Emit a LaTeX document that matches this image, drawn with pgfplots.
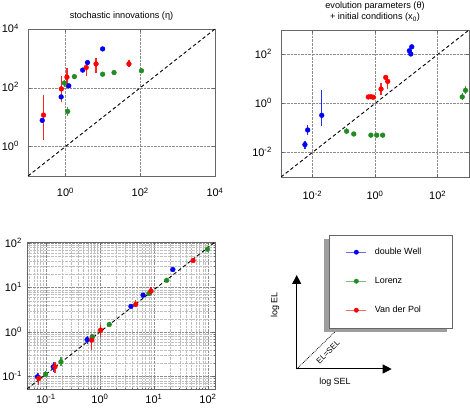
\documentclass[border=0pt]{standalone}
\usepackage{pgfplots}
\pgfplotsset{compat=1.18}
\usepackage{fontspec}
\setmainfont{Liberation Sans}
\usetikzlibrary{arrows.meta}
\definecolor{cb}{rgb}{0,0,1}
\definecolor{cg}{rgb}{0.13,0.55,0.13}
\definecolor{cr}{rgb}{1,0,0}
\pgfplotsset{
  panelstyle/.style={scale only axis,
    axis line style={black!60, line width=0.7bp},
    tick style={black!60, line width=0.5bp},
    major tick length=3bp, minor tick length=0bp, tick align=inside,
    grid=major, major grid style={densely dotted, black!45, line width=0.5bp},
    ticklabel style={font=\fontsize{11}{13}\selectfont, inner sep=0pt},
    xticklabel style={anchor=base, yshift=-21bp},
    yticklabel style={anchor=base east, xshift=-9bp, yshift=-4bp},
    every axis title shift=0pt,
    title style={font=\fontsize{9.2}{11.5}\selectfont, at={(0.5,1)}, anchor=south, inner sep=0pt, yshift=8bp, align=center},
  },
  dotser/.style={only marks, mark=*, mark size=2.4bp, color=#1, mark options={draw=#1, fill=#1}},
  errser/.style={color=#1, line width=1.2bp, unbounded coords=jump, opacity=0.85, forget plot},
  diagline/.style={black, line width=0.9bp, dash pattern=on 3.5bp off 2.5bp},
}
\begin{document}
\begin{tikzpicture}
\path[use as bounding box] (0bp,0bp) rectangle (470bp,411bp);

% ---------- panel 4: schematic + legend box ----------
\draw[black, densely dotted, line width=0.8bp] (296.7bp,42bp) -- (346bp,90bp);
\fill[black!38] (324.3bp,79.3bp) rectangle (447.3bp,171.7bp);
\filldraw[fill=white, draw=black!60, line width=0.8bp] (329.3bp,82.7bp) rectangle (452.3bp,176bp);
\draw[line width=1bp, -{Triangle[length=9bp,width=9bp]}] (296.7bp,42bp) -- (296.7bp,136bp);
\draw[line width=1bp, -{Triangle[length=9bp,width=9bp]}] (296.7bp,42bp) -- (391.7bp,42bp);
\node[rotate=90, font=\fontsize{9}{11}\selectfont] at (275bp,106bp) {log EL};
\node[font=\fontsize{9}{11}\selectfont] at (335bp,29.3bp) {log SEL};
\node[rotate=45, font=\fontsize{8}{10}\selectfont] at (328bp,59bp) {EL=SEL};

% ---------- panel 1 ----------
\begin{loglogaxis}[panelstyle, at={(28bp,235bp)}, anchor=south west, width=187bp, height=147bp,
  xmin=0.1, xmax=1e4, ymin=0.1, ymax=1e4,
  xtick={1,100,10000}, xticklabels={10\textsuperscript{0},10\textsuperscript{2},10\textsuperscript{4}},
  ytick={1,100,10000}, yticklabels={10\textsuperscript{0},10\textsuperscript{2},10\textsuperscript{4}},
  title={stochastic innovations (η)}]
\addplot[diagline] coordinates {(0.1,0.1) (1e4,1e4)};
\addplot[errser=cr] coordinates {(0.26,1.7) (0.26,58) (nan,nan) (0.78,34) (0.78,255) (nan,nan)
  (1.1,97) (1.1,465) (nan,nan) (3.6,255) (3.6,750) (nan,nan) (6.6,315) (6.6,1010) (nan,nan) (50,530) (50,890)};
\addplot[errser=cg] coordinates {(0.94,106) (0.94,186) (nan,nan) (1.15,10.6) (1.15,22) (nan,nan) (1.74,196) (1.74,298)};
\addplot[dotser=cb] coordinates {(0.24,7.8) (0.77,49) (1.23,117) (2.9,400) (3.9,720) (9.9,2100)};
\addplot[dotser=cg] coordinates {(0.94,145) (1.15,15.7) (1.74,240) (9.9,290) (20,330) (108,380)};
\addplot[dotser=cr] coordinates {(0.26,11.8) (0.78,92) (1.1,230) (3.6,490) (6.6,650) (50,650)};
\end{loglogaxis}

% ---------- panel 2 ----------
\begin{loglogaxis}[panelstyle, at={(281bp,234bp)}, anchor=south west, width=188bp, height=147bp,
  xmin=1e-3, xmax=1e3, ymin=1e-3, ymax=1e3,
  xticklabel style={yshift=-2bp},
  xtick={0.01,1,100}, xticklabels={10\textsuperscript{-2},10\textsuperscript{0},10\textsuperscript{2}},
  ytick={0.01,1,100}, yticklabels={10\textsuperscript{-2},10\textsuperscript{0},10\textsuperscript{2}},
  title={evolution parameters (θ)\\+ initial conditions (x\textsubscript{0})}]
\addplot[diagline] coordinates {(1e-3,1e-3) (1e3,1e3)};
\addplot[errser=cb] coordinates {(0.0058,0.014) (0.0058,0.030) (nan,nan) (0.0071,0.051) (0.0071,0.13) (nan,nan) (0.020,0.12) (0.020,3.5)};
\addplot[errser=cr] coordinates {(0.61,1.6) (0.61,2.1) (nan,nan) (0.74,1.7) (0.74,2.2) (nan,nan) (0.88,1.5) (0.88,2.1) (nan,nan)
  (1.56,2.3) (1.56,6.9) (nan,nan) (2.55,3.9) (2.55,12.7)};
\addplot[errser=cg] coordinates {(0.124,0.056) (0.124,0.104) (nan,nan) (610,1.45) (610,2.7) (nan,nan) (775,2.5) (775,5)};
\addplot[dotser=cb] coordinates {(0.0058,0.021) (0.0071,0.083) (0.020,0.33) (12.5,142) (13.9,105) (14.9,206)};
\addplot[dotser=cg] coordinates {(0.124,0.074) (0.21,0.057) (0.74,0.051) (1.13,0.051) (1.76,0.051) (610,1.86) (775,3.45)};
\addplot[dotser=cr] coordinates {(0.61,1.85) (0.74,1.9) (0.88,1.8) (1.56,3.9) (2.2,11.6) (2.55,8)};
\end{loglogaxis}

% ---------- panel 3 ----------
\begin{loglogaxis}[panelstyle, at={(27bp,22bp)}, anchor=south west, width=188bp, height=147bp,
  xmin=0.0447, xmax=135, ymin=0.0525, ymax=107,
  xticklabel style={yshift=7bp}, yticklabel style={xshift=4bp},
  grid=both, minor tick length=1.5bp,
  minor grid style={densely dotted, black!25, line width=0.4bp},
  xtick={0.1,1,10,100}, xticklabels={10\textsuperscript{-1},10\textsuperscript{0},10\textsuperscript{1},10\textsuperscript{2}},
  ytick={0.1,1,10,100}, yticklabels={10\textsuperscript{-1},10\textsuperscript{0},10\textsuperscript{1},10\textsuperscript{2}},
  minor xtick={0.05,0.06,0.07,0.08,0.09,0.2,0.3,0.4,0.5,0.6,0.7,0.8,0.9,2,3,4,5,6,7,8,9,20,30,40,50,60,70,80,90},
  minor ytick={0.06,0.07,0.08,0.09,0.2,0.3,0.4,0.5,0.6,0.7,0.8,0.9,2,3,4,5,6,7,8,9,20,30,40,50,60,70,80,90}]
\addplot[diagline] coordinates {(0.0447,0.0525) (135,107)};
\addplot[errser=cb] coordinates {(0.070,0.08) (0.070,0.12) (nan,nan) (0.137,0.13) (0.137,0.21) (nan,nan) (0.58,0.55) (0.58,0.8)};
\addplot[errser=cr] coordinates {(0.074,0.064) (0.074,0.12) (nan,nan) (0.147,0.12) (0.147,0.215) (nan,nan) (0.70,0.39) (0.70,0.93) (nan,nan)
  (1.03,0.78) (1.03,1.44) (nan,nan) (4.6,3.6) (4.6,5.2) (nan,nan) (8.8,6.8) (8.8,10.4)};
\addplot[errser=cg] coordinates {(0.099,0.096) (0.099,0.135) (nan,nan) (0.19,0.17) (0.19,0.28) (nan,nan) (0.72,0.65) (0.72,0.9)};
\addplot[dotser=cb] coordinates {(0.070,0.099) (0.137,0.166) (0.58,0.68) (3.75,3.8) (6.3,6.8) (22.4,25.7)};
\addplot[dotser=cg] coordinates {(0.099,0.114) (0.19,0.215) (0.72,0.78) (1.49,1.49) (8.1,7.4) (17.2,14.7) (98,74)};
\addplot[dotser=cr] coordinates {(0.074,0.091) (0.147,0.166) (0.70,0.66) (1.03,1.11) (4.6,4.2) (8.8,8.4) (53,41)};
\end{loglogaxis}

% ---------- legend holder ----------
\begin{axis}[at={(329.3bp,82.7bp)}, anchor=south west, scale only axis, width=123bp, height=93.3bp,
  hide axis, xmin=0, xmax=1, ymin=0, ymax=1,
  legend cell align=left,
  legend style={at={(0.1333,0.8875)}, anchor=north west, draw=none, fill=none, inner sep=0pt,
    row sep=16bp, font=\fontsize{9}{11}\selectfont,
    nodes={inner sep=2bp, text height=7bp, text depth=2bp},
    /tikz/every odd column/.append style={column sep=6bp}}]
\addlegendimage{legend image code/.code={\draw[cb!60, line width=0.9bp] (0bp,0bp) -- (20bp,0bp); \fill[cb] (10bp,0bp) circle (2.2bp);}}
\addlegendentry{double Well}
\addlegendimage{legend image code/.code={\draw[cg!60, line width=0.9bp] (0bp,0bp) -- (20bp,0bp); \fill[cg] (10bp,0bp) circle (2.2bp);}}
\addlegendentry{Lorenz}
\addlegendimage{legend image code/.code={\draw[cr!60, line width=0.9bp] (0bp,0bp) -- (20bp,0bp); \fill[cr] (10bp,0bp) circle (2.2bp);}}
\addlegendentry{Van der Pol}
\end{axis}
\end{tikzpicture}
\end{document}
